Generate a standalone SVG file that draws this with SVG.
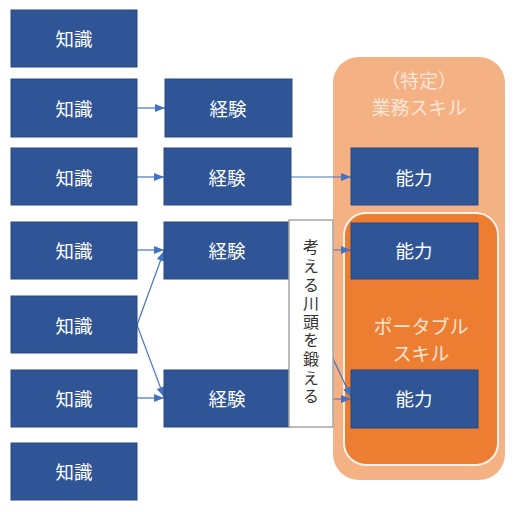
<svg xmlns="http://www.w3.org/2000/svg" width="516" height="512" viewBox="0 0 516 512">
<defs>
<marker id="ah" markerWidth="10" markerHeight="8" refX="10" refY="4" orient="auto" markerUnits="userSpaceOnUse">
<path d="M0,0 L10,4 L0,8 Z" fill="#4472C4"/>
</marker>
<style>
.box{fill:#2F5597;stroke:#2A4A80;stroke-width:1}
.lbl{fill:#FFFFFF;font-family:"Noto Sans CJK JP","Noto Sans CJK SC",sans-serif;font-size:18.5px;text-anchor:middle;dominant-baseline:central}
.con{stroke:#4472C4;stroke-width:1.2;fill:none;marker-end:url(#ah)}
.grp{fill:#FBE5D6;font-family:"Noto Sans CJK JP",sans-serif;font-size:19px;text-anchor:middle;dominant-baseline:central}
.vt{fill:#333333;font-family:"Noto Sans CJK JP",sans-serif;font-size:16px;text-anchor:middle;writing-mode:vertical-rl;letter-spacing:2.6px}
</style>
</defs>
<rect width="516" height="512" fill="#FFFFFF"/>
<g id="business-skill">
<rect x="333" y="57" width="172" height="423" rx="26" fill="#F4B183"/>
<text class="grp" x="419" y="79">（特定）</text>
<text class="grp" x="419" y="106">業務スキル</text>
</g>
<g id="portable-skill">
<rect x="344" y="213" width="154" height="252" rx="22" fill="#ED7D31" stroke="#FDF2E9" stroke-width="2"/>
<text class="grp" x="421" y="325">ポータブル</text>
<text class="grp" x="421" y="352">スキル</text>
</g>
<g id="connectors">
<line class="con" x1="137" y1="108" x2="165" y2="108"/>
<line class="con" x1="137" y1="177" x2="164" y2="177"/>
<line class="con" x1="291" y1="177" x2="351" y2="177"/>
<line class="con" x1="137" y1="250" x2="164" y2="250"/>
<line class="con" x1="137" y1="325" x2="164" y2="251"/>
<line class="con" x1="137" y1="325" x2="164" y2="397"/>
<line class="con" x1="137" y1="398" x2="164" y2="398"/>
<line class="con" x1="291" y1="250" x2="351" y2="250"/>
<line class="con" x1="291" y1="399" x2="351" y2="399"/>
<line class="con" x1="291" y1="269" x2="351" y2="397"/>
</g>
<g id="k1"><rect class="box" x="11" y="10" width="126" height="57"/><text class="lbl" x="74" y="38">知識</text></g>
<g id="k2"><rect class="box" x="11" y="79" width="126" height="58"/><text class="lbl" x="74" y="108">知識</text></g>
<g id="k3"><rect class="box" x="11" y="148" width="126" height="57"/><text class="lbl" x="74" y="177">知識</text></g>
<g id="k4"><rect class="box" x="11" y="222" width="126" height="57"/><text class="lbl" x="74" y="250">知識</text></g>
<g id="k5"><rect class="box" x="11" y="296" width="126" height="57"/><text class="lbl" x="74" y="325">知識</text></g>
<g id="k6"><rect class="box" x="11" y="370" width="126" height="57"/><text class="lbl" x="74" y="398">知識</text></g>
<g id="k7"><rect class="box" x="11" y="443" width="126" height="57"/><text class="lbl" x="74" y="471">知識</text></g>
<g id="e2"><rect class="box" x="165" y="79" width="127" height="58"/><text class="lbl" x="228" y="108">経験</text></g>
<g id="e3"><rect class="box" x="164" y="148" width="127" height="57"/><text class="lbl" x="227" y="177">経験</text></g>
<g id="e4"><rect class="box" x="164" y="222" width="127" height="57"/><text class="lbl" x="227" y="250">経験</text></g>
<g id="e6"><rect class="box" x="164" y="370" width="127" height="57"/><text class="lbl" x="227" y="398">経験</text></g>
<g id="a1"><rect class="box" x="351" y="148" width="127" height="57"/><text class="lbl" x="414" y="177">能力</text></g>
<g id="a2"><rect class="box" x="351" y="223" width="127" height="56"/><text class="lbl" x="414" y="250">能力</text></g>
<g id="a3"><rect class="box" x="351" y="370" width="127" height="58"/><text class="lbl" x="414" y="398">能力</text></g>
<g id="think">
<rect x="289" y="220" width="44" height="207" fill="#FFFFFF" stroke="#A6A6A6" stroke-width="1.5"/>
<text class="vt" x="311" y="323">考える川頭を鍛える</text>
</g>
</svg>
